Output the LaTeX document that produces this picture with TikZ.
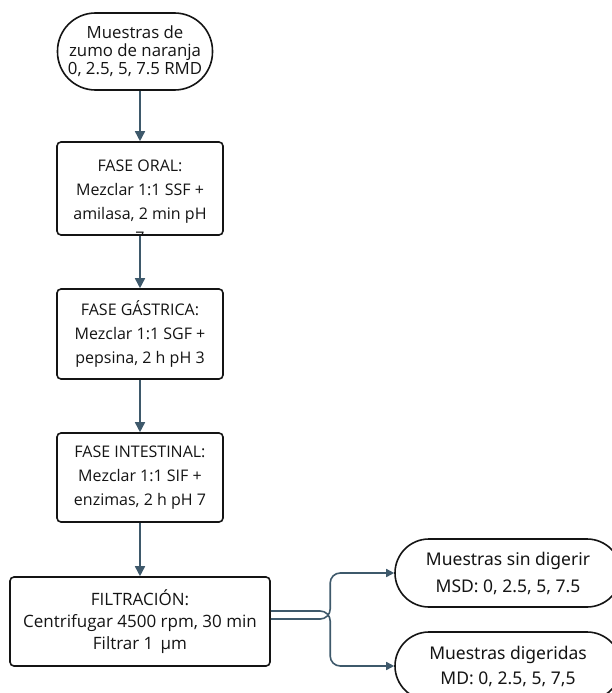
\documentclass[tikz,border=0pt]{standalone}
\usepackage{fontspec}
\setmainfont{Open Sans}
\newfontfamily\rfont{Noto Sans}
\usetikzlibrary{arrows.meta,calc}
\definecolor{conn}{RGB}{62,89,107}
\definecolor{ink}{RGB}{20,20,20}
\tikzset{
  boxst/.style={draw=ink, line width=1.6pt, rounded corners=4pt, fill=white, align=center, text=ink, inner sep=0pt},
  termst/.style={draw=ink, line width=1.6pt, fill=white, align=center, text=ink, inner sep=0pt},
  arr/.style={draw=conn, line width=1.6pt, -{Triangle[length=10pt,width=10pt]}},
  arrs/.style={draw=conn, line width=1.6pt, rounded corners=10pt, -{Triangle[length=8pt,width=8pt]}},
  lt/.style={font=\fontsize{16}{24}\selectfont},
}
\begin{document}
\begin{tikzpicture}[x=1pt,y=-1pt]
\useasboundingbox (0,0) rectangle (611,693);
\node[termst, minimum width=155pt, minimum height=77pt, rounded corners=38pt, font=\fontsize{16.8}{18}\selectfont] (t1) at (135,51.5) {Muestras de\\zumo de naranja\\0, 2.5, 5, 7.5 RMD};
\node[boxst, lt, minimum width=166pt, minimum height=93pt] (b1) at (140,188.5) {};
\node[lt, align=center, text=ink, inner sep=0pt] (b1t) at (140,191.5) {FASE ORAL:\\Mezclar 1:1 SSF +\\amilasa, 2 min pH};
\begin{scope}
\clip (57,142) rectangle (223,235.5);
\node[lt, text=ink, inner sep=0pt] (b1seven) at (140,238) {7};
\end{scope}
\node[boxst, lt, minimum width=166pt, minimum height=90pt] (b2) at (140,334) {FASE GÁSTRICA:\\Mezclar 1:1 SGF +\\pepsina, 2 h pH 3};
\node[boxst, lt, minimum width=166pt, minimum height=89pt] (b3) at (140,477.5) {FASE INTESTINAL:\\Mezclar 1:1 SIF +\\enzimas, 2 h pH 7};
\node[boxst, font=\fontsize{17}{22}\selectfont, minimum width=260pt, minimum height=89pt] (b4) at (140,621.5) {FILTRACIÓN:\\Centrifugar 4500 rpm, 30 min\\Filtrar 1\, µm};
\node[termst, minimum width=226pt, minimum height=68pt, rounded corners=34pt, font=\rfont\fontsize{17.5}{27}\selectfont] (t2) at (508,573) {Muestras sin digerir\\MSD: 0, 2.5, 5, 7.5};
\node[termst, minimum width=226pt, minimum height=68pt, rounded corners=34pt, font=\rfont\fontsize{17.5}{25}\selectfont] (t3) at (508,666) {Muestras digeridas\\MD: 0, 2.5, 5, 7,5};
\draw[arr] (b1.north |- t1.south) -- (b1.north);
\draw[arr] (b1.south) -- (b2.north);
\draw[arr] (b2.south) -- (b3.north);
\draw[arr] (b3.south) -- (b4.north);
\draw[arrs] ([yshift=2.5pt]b4.east) -| ($(t2.west)+(-64,0)$) -- (t2.west);
\draw[arrs] ([yshift=10.5pt]b4.east) -| ($(t3.west)+(-64,0)$) -- (t3.west);
\end{tikzpicture}
\end{document}
